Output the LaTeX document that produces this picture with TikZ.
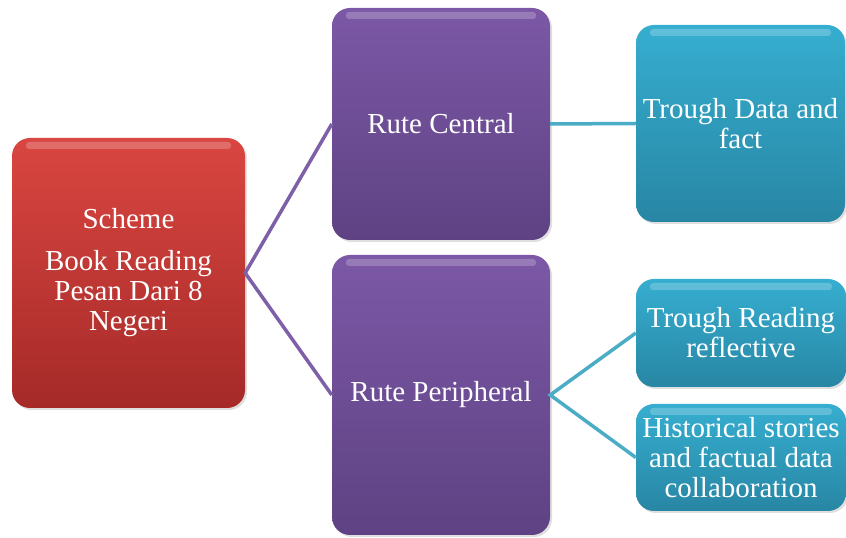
\documentclass[tikz,border=0pt]{standalone}
\usepackage{fontspec}
\setmainfont{Liberation Serif}
\usepackage{tikz}
\usetikzlibrary{shadows}

\begin{document}
\begin{tikzpicture}[x=1pt,y=1pt,
	box/.style={rounded corners=18pt,text=white,align=center,inner sep=0pt,
		font=\fontsize{29}{30}\selectfont,drop shadow={opacity=0.25,shadow xshift=2pt,shadow yshift=-2pt},
		path picture={\fill[white,opacity=0.22,rounded corners=3pt] ([xshift=14pt,yshift=-4pt]path picture bounding box.north west) rectangle ([xshift=-14pt,yshift=-11pt]path picture bounding box.north east);}},
	redbox/.style={box,top color={rgb,255:red,218;green,70;blue,65},bottom color={rgb,255:red,165;green,42;blue,40}},
	purplebox/.style={box,top color={rgb,255:red,124;green,88;blue,166},bottom color={rgb,255:red,94;green,66;blue,131}},
	tealbox/.style={box,top color={rgb,255:red,54;green,174;blue,208},bottom color={rgb,255:red,40;green,134;blue,164}},
	purpleline/.style={draw={rgb,255:red,126;green,96;blue,168},line width=3.5pt},
	tealline/.style={draw={rgb,255:red,75;green,172;blue,198},line width=3.5pt}]
	\useasboundingbox (0,0) rectangle (846,538);
	\node[redbox,minimum width=233pt,minimum height=270pt] (scheme) at (128.5,265) {Scheme\\[12pt]Book Reading\\Pesan Dari 8\\Negeri};
	\node[purplebox,minimum width=218pt,minimum height=232pt] (central) at (441,414) {Rute Central};
	\node[purplebox,minimum width=218pt,minimum height=280pt] (peripheral) at (441,143) {Rute Peripheral};
	\node[tealbox,minimum width=209pt,minimum height=197pt] (datafact) at (740.5,414.5) {Trough Data and\\fact};
	\node[tealbox,minimum width=210pt,minimum height=108pt] (reflective) at (741,205) {Trough Reading\\reflective};
	\node[tealbox,minimum width=210pt,minimum height=107pt] (historical) at (741,80.5) {Historical stories\\and factual data\\collaboration};
	% connectors
	\draw[purpleline] (central.west) -- (scheme.east) -- (peripheral.west);
	\draw[tealline] (central.east) -- (datafact.west);
	\draw[tealline] (reflective.west) -- (peripheral.east) -- (historical.west);
\end{tikzpicture}
\end{document}
